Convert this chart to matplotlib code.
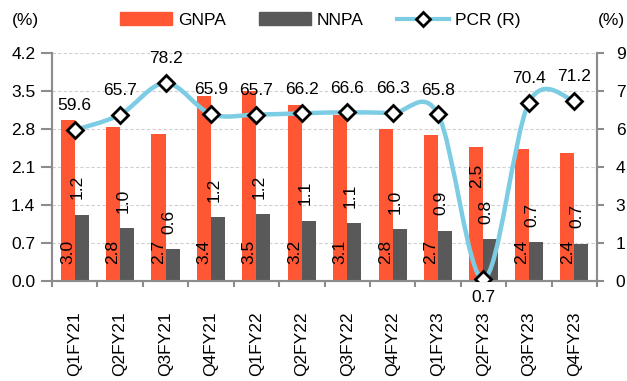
import numpy as np
import matplotlib
matplotlib.use("Agg")
import matplotlib.pyplot as plt
from matplotlib.path import Path
from matplotlib.patches import PathPatch, Patch
from matplotlib.lines import Line2D
from matplotlib.ticker import FixedLocator, FuncFormatter

plt.rcParams['font.family'] = ['Liberation Sans', 'DejaVu Sans']
plt.rcParams['font.size'] = 12.5

quarters = ['Q1FY21', 'Q2FY21', 'Q3FY21', 'Q4FY21', 'Q1FY22', 'Q2FY22',
            'Q3FY22', 'Q4FY22', 'Q1FY23', 'Q2FY23', 'Q3FY23', 'Q4FY23']
gnpa = [2.96, 2.84, 2.71, 3.41, 3.50, 3.24, 3.06, 2.80, 2.69, 2.47, 2.43, 2.36]
nnpa = [1.22, 0.98, 0.59, 1.18, 1.23, 1.11, 1.06, 0.96, 0.93, 0.77, 0.72, 0.69]
pcr = [59.6, 65.7, 78.2, 65.9, 65.7, 66.2, 66.6, 66.3, 65.8, 0.7, 70.4, 71.2]

ORANGE = '#FF5733'
GREY = '#595959'
BLUE = '#7CCCE4'
AXC = '#8C8C8C'


# smooth line like excel (catmull-rom as bezier segments)
def smooth_path(xs, ys):
    pts = np.column_stack([xs, ys])
    n = len(pts)
    verts = [pts[0]]
    codes = [Path.MOVETO]
    for i in range(n - 1):
        p0 = pts[i - 1] if i > 0 else pts[i]
        p1 = pts[i]
        p2 = pts[i + 1]
        p3 = pts[i + 2] if i + 2 < n else pts[i + 1]
        c1 = p1 + (p2 - p0) / 6.0
        c2 = p2 - (p3 - p1) / 6.0
        verts += [c1, c2, p2]
        codes += [Path.CURVE4] * 3
    return Path(verts, codes)


fig = plt.figure(figsize=(6.27, 3.81), dpi=100)
ax = fig.add_axes([52 / 627, 1 - 281 / 381, 545 / 627, 228 / 381])
ax2 = ax.twinx()

x = np.arange(len(quarters))
w = 0.31
ax.bar(x - w / 2, gnpa, w, color=ORANGE, zorder=2)
ax.bar(x + w / 2, nnpa, w, color=GREY, zorder=2)

ax.set_xlim(-0.5, len(quarters) - 0.5)
ax.set_ylim(0, 4.2)
ax.set_yticks(np.arange(0, 4.21, 0.7))
ax.yaxis.set_major_formatter(FuncFormatter(lambda v, p: '%.1f' % v))
ax.grid(axis='y', color='#D0D0D0', linestyle=(0, (3, 2)), linewidth=0.8, zorder=0)
ax.set_axisbelow(True)

ax.set_xticks(x)
ax.set_xticklabels(quarters, rotation=90, va='top')
ax.tick_params(axis='x', length=0, pad=22)
ax.xaxis.set_minor_locator(FixedLocator(np.arange(-0.5, len(quarters), 1)))
ax.tick_params(axis='x', which='minor', length=4.5, width=1.5, color=AXC)
ax.tick_params(axis='y', length=8, width=1.5, color=AXC, pad=4)

ax.spines['top'].set_visible(False)
ax2.spines['top'].set_visible(False)
for s in ['left', 'bottom', 'right']:
    ax.spines[s].set_color(AXC)
    ax.spines[s].set_linewidth(1.5)
    ax2.spines[s].set_color(AXC)
    ax2.spines[s].set_linewidth(1.5)

# bar labels
for i in range(len(quarters)):
    if quarters[i] == 'Q2FY23':
        ax.annotate('%.1f' % gnpa[i], (x[i] - w / 2, gnpa[i]), xytext=(0, -12),
                    textcoords='offset points', rotation=90, ha='center', va='top')
    else:
        ax.annotate('%.1f' % gnpa[i], (x[i] - w / 2, 0), xytext=(0, 12),
                    textcoords='offset points', rotation=90, ha='center', va='bottom')
    ax.annotate('%.1f' % nnpa[i], (x[i] + w / 2, nnpa[i]), xytext=(-3, 11),
                textcoords='offset points', rotation=90, ha='center', va='bottom')

# PCR on right axis
pcr_plot = np.array(pcr) / 10.0
ax2.set_ylim(0, 9)
ax2.set_yticks(np.arange(0, 9.01, 1.5))
ax2.yaxis.set_major_formatter(FuncFormatter(lambda v, p: '%d' % int(v)))
ax2.tick_params(axis='y', length=5, width=1.5, color=AXC, pad=8.5)
ax2.add_patch(PathPatch(smooth_path(x, pcr_plot), facecolor='none',
                        edgecolor=BLUE, linewidth=3.2, zorder=3))
ax2.plot(x, pcr_plot, linestyle='none', marker='D', markersize=8,
         markerfacecolor='white', markeredgecolor='black', markeredgewidth=2, zorder=4)
for i in range(len(quarters)):
    if pcr[i] < 10:
        ax2.annotate('%.1f' % pcr[i], (x[i], pcr_plot[i]), xytext=(0, -8),
                     textcoords='offset points', ha='center', va='top')
    else:
        ax2.annotate('%.1f' % pcr[i], (x[i], pcr_plot[i]), xytext=(0, 12),
                     textcoords='offset points', ha='center', va='bottom')

fig.text(25 / 627, 1 - 20 / 381, '(%)', ha='center', va='center')
fig.text(611 / 627, 1 - 20 / 381, '(%)', ha='center', va='center')

handles = [Patch(color=ORANGE, label='GNPA'),
           Patch(color=GREY, label='NNPA'),
           Line2D([], [], color=BLUE, linewidth=3, marker='D', markersize=7,
                  markerfacecolor='white', markeredgecolor='black',
                  markeredgewidth=2, label='PCR (R)')]
fig.legend(handles=handles, loc='center', bbox_to_anchor=(320 / 627, 1 - 20 / 381),
           ncol=3, frameon=False, handlelength=3.0, handletextpad=0.35,
           columnspacing=1.9, borderaxespad=0, borderpad=0)

fig.savefig('out.png', dpi=100)
